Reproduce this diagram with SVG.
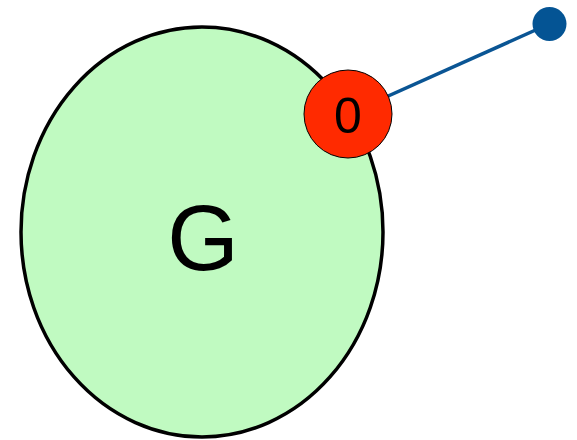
<svg xmlns="http://www.w3.org/2000/svg" width="577" height="440" viewBox="0 0 577 440">
<style>
.lbl{font-family:"Liberation Sans","DejaVu Sans",sans-serif;fill:#000;text-anchor:middle}
</style>
<rect width="577" height="440" fill="#fff"/>
<g id="graph-G">
<ellipse cx="202" cy="232" rx="181" ry="205" fill="#c0fac1" stroke="#000" stroke-width="3.5"/>
<text class="lbl" x="203" y="270" font-size="92">G</text>
</g>
<g id="connectors">
<line x1="348" y1="114" x2="549" y2="24" stroke="#0a5594" stroke-width="3.5"/>
</g>
<g id="node-0">
<circle cx="348" cy="114" r="44" fill="#ff2a00" stroke="#000" stroke-width="1"/>
<text class="lbl" x="348" y="133" font-size="50">0</text>
</g>
<g id="endpoint">
<circle cx="549.5" cy="24" r="17" fill="#045494"/>
</g>
</svg>
